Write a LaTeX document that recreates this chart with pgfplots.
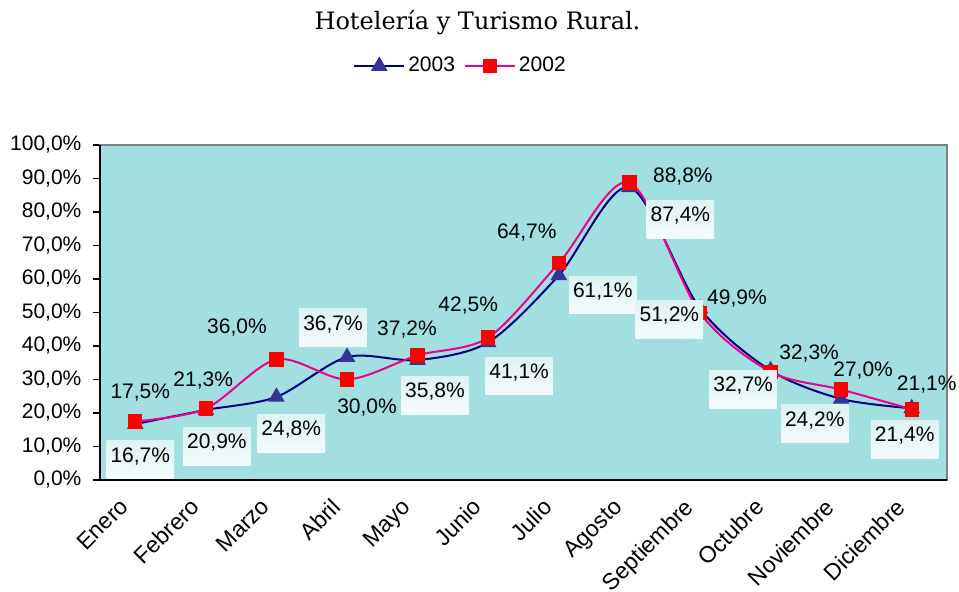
\documentclass[border=0pt]{standalone}
\usepackage{fontspec}
\setmainfont{Liberation Sans}
\newfontfamily\titlefont{DejaVu Serif}
\usepackage{pgfplots}
\usepackage{pgfplotstable}
\pgfplotsset{compat=1.18}
\definecolor{bgteal}{RGB}{162,223,224}
\definecolor{navyline}{RGB}{0,0,128}
\definecolor{navymark}{RGB}{51,51,153}
\definecolor{boxtop}{RGB}{222,243,243}
\definecolor{boxbot}{RGB}{244,252,252}
\definecolor{framegray}{RGB}{128,128,128}
\newcommand{\lblfont}{\fontsize{10.5}{12}\selectfont}

% 2003 series: x, value, label offset (pt)
\pgfplotstableread{
x y dx dy
0 16.7 2.5 -19
1 20.9 5.5 -19.5
2 24.8 7.4 -19.5
3 36.7 -7 13.5
4 35.8 8.65 -18.8
5 41.1 15.45 -18
6 61.1 22 -11
7 87.4 25.5 -17.25
8 51.2 -15.3 -6.6
9 32.7 -13.7 -10.6
10 24.2 -13.15 -13.55
11 21.4 -3.5 -16.7
}\dataA

% 2002 series
\pgfplotstableread{
x y dx dy
0 17.5 2.5 11.5
1 21.3 -1.3 11.3
2 36.0 -19.75 12.7
3 30.0 10 -17
4 37.2 -5.35 9.7
5 42.5 -10 13.3
6 64.7 -16 12.5
7 88.8 26.75 0
8 49.9 18.5 4.4
9 32.3 19.3 5.9
10 27.0 11 6.4
11 21.1 7.5 9.65
}\dataB

\begin{document}
\begin{tikzpicture}
\useasboundingbox (-50pt,-56pt) rectangle (429.5pt,240pt);
\begin{axis}[
  scale only axis,
  width=423.5pt, height=167.5pt,
  at={(0pt,0pt)}, anchor=south west,
  xmin=-0.5, xmax=11.5, ymin=0, ymax=100,
  clip=false,
  /pgf/number format/assume math mode=true,
  axis background/.style={fill=bgteal},
  axis line style={draw=framegray, line width=1pt},
  xtick={0,1,2,3,4,5,6,7,8,9,10,11},
  xticklabels={Enero,Febrero,Marzo,Abril,Mayo,Junio,Julio,Agosto,Septiembre,Octubre,Noviembre,Diciembre},
  x tick style={draw=none},
  xticklabel style={xshift=-8.5pt, yshift=-5pt, rotate=45, anchor=north east, inner sep=0pt, font=\fontsize{11.5}{13}\selectfont},
  ytick={0,10,20,30,40,50,60,70,80,90,100},
  yticklabel={\pgfmathprintnumber[fixed,fixed zerofill,precision=1,use comma]{\tick}\%},
  ytick pos=left,
  tick align=outside,
  major tick length=3.3pt,
  y tick style={black, line width=0.8pt},
  yticklabel style={inner sep=0pt, xshift=-5.8pt, font=\lblfont},
  legend columns=2,
  legend style={draw=none, fill=none, at={(0.4262,1.2358)}, anchor=center,
    font=\lblfont, nodes={inner sep=1.5pt},
    /tikz/every even column/.append style={column sep=3pt}},
  legend image code/.code={\draw[mark repeat=2,mark phase=2] plot coordinates {(0pt,0pt) (12.5pt,0pt) (25pt,0pt)};},
]
\addplot[navyline, line width=1pt, smooth, mark=triangle*, mark size=3.8pt,
  mark options={fill=navymark, draw=navymark, solid}] table[x=x,y=y] {\dataA};
\addlegendentry{2003}
\addplot[magenta, line width=1pt, smooth, mark=square*, mark size=3.1pt,
  mark options={fill=red, draw=red, solid}] table[x=x,y=y] {\dataB};
\addlegendentry{2002}

\draw[black, line width=1pt] (rel axis cs:0,1) -- (rel axis cs:0,0) -- (rel axis cs:1,0);

% data labels 2003 (boxed)
\addplot[draw=none, mark=none, forget plot,
  point meta=y,
  visualization depends on={\thisrow{dx} \as \dx},
  visualization depends on={\thisrow{dy} \as \dy},
  nodes near coords={\pgfmathprintnumber[fixed,fixed zerofill,precision=1,use comma]{\pgfplotspointmeta}\%},
  nodes near coords style={anchor=base, xshift=\dx pt, yshift=\dy pt, text=black,
    top color=boxtop, bottom color=boxbot, draw=none,
    inner xsep=2pt, inner ysep=3.2pt, text depth=5pt, font=\lblfont}
] table[x=x,y=y] {\dataA};

% data labels 2002 (plain)
\addplot[draw=none, mark=none, forget plot,
  point meta=y,
  visualization depends on={\thisrow{dx} \as \dx},
  visualization depends on={\thisrow{dy} \as \dy},
  nodes near coords={\pgfmathprintnumber[fixed,fixed zerofill,precision=1,use comma]{\pgfplotspointmeta}\%},
  nodes near coords style={anchor=base, xshift=\dx pt, yshift=\dy pt, text=black,
    inner sep=0pt, font=\lblfont}
] table[x=x,y=y] {\dataB};
\end{axis}
\node[anchor=base, font={\titlefont\fontsize{12}{14}\selectfont}] at (188.75pt,225pt) {Hotelería y Turismo Rural.};
\end{tikzpicture}
\end{document}
